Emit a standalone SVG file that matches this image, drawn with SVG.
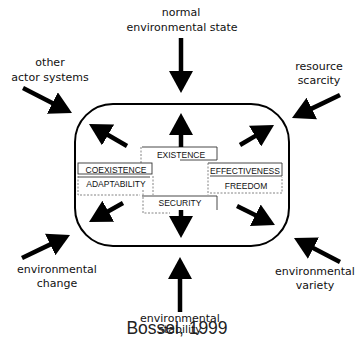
<svg xmlns="http://www.w3.org/2000/svg" width="357" height="338" viewBox="0 0 357 338">
<style>
.lbl{font-family:"DejaVu Sans","Liberation Sans",sans-serif;font-size:11px;fill:#111;text-anchor:middle}
.cap{font-family:"Liberation Sans",Arial,sans-serif;font-size:8.5px;fill:#111;text-anchor:middle}
.arr{stroke:#000;stroke-width:4.5;fill:none;marker-end:url(#head)}
.bx{fill:none;stroke:#333;stroke-width:0.9}
.dsh{fill:none;stroke:#666;stroke-width:0.8;stroke-dasharray:2 1.5}
</style>
<defs>
<marker id="head" viewBox="0 0 22 24" refX="2" refY="12" markerWidth="22" markerHeight="24" markerUnits="userSpaceOnUse" orient="auto">
<path d="M0,0 L22,12 L0,24 z" fill="#000"/>
</marker>
</defs>
<rect width="357" height="338" fill="#fff"/>
<g id="system">
<rect x="75" y="104" width="214" height="142" rx="38" ry="38" fill="none" stroke="#000" stroke-width="2"/>
</g>
<g id="existence">
<path class="bx" d="M142,147 H217 V160 H180"/>
<path class="dsh" d="M141,147 V163"/>
<text class="cap" x="181" y="158">EXISTENCE</text>
</g>
<g id="coexistence">
<rect class="bx" x="78" y="163" width="74" height="11"/>
<text class="cap" x="116" y="172.5">COEXISTENCE</text>
</g>
<g id="adaptability">
<path class="bx" d="M78,177 H150"/>
<path class="dsh" d="M78,176 V195 H140"/>
<path class="dsh" d="M153,176 V195"/>
<text class="cap" x="116" y="187">ADAPTABILITY</text>
</g>
<g id="effectiveness">
<path class="bx" d="M208,163 H282 V176 H210"/>
<path class="dsh" d="M208,163 V195"/>
<text class="cap" x="245" y="174">EFFECTIVENESS</text>
</g>
<g id="freedom">
<path class="dsh" d="M210,193 H282 V177"/>
<text class="cap" x="246" y="189">FREEDOM</text>
</g>
<g id="security">
<path class="bx" d="M142,196 H217 V210"/>
<path class="dsh" d="M143,190 V213 H170"/>
<text class="cap" x="180" y="206">SECURITY</text>
</g>
<g id="normal-env">
<text class="lbl" x="181" y="16">normal</text>
<text class="lbl" x="182" y="31">environmental state</text>
</g>
<g id="other-actors">
<text class="lbl" x="50" y="66">other</text>
<text class="lbl" x="50" y="81">actor systems</text>
</g>
<g id="resource">
<text class="lbl" x="319" y="70">resource</text>
<text class="lbl" x="319" y="84">scarcity</text>
</g>
<g id="env-change">
<text class="lbl" x="57" y="273">environmental</text>
<text class="lbl" x="57" y="287">change</text>
</g>
<g id="env-variety">
<text class="lbl" x="315" y="275">environmental</text>
<text class="lbl" x="315" y="289">variety</text>
</g>
<g id="env-stability">
<text class="lbl" x="180" y="322">environmental</text>
<text class="lbl" x="180" y="333">stability</text>
</g>
<g id="connectors">
<line class="arr" x1="181" y1="38" x2="181" y2="73"/>
<line class="arr" x1="180" y1="312" x2="180" y2="277"/>
<line class="arr" x1="23" y1="88" x2="54.2" y2="103.9"/>
<line class="arr" x1="340" y1="95" x2="310" y2="109.4"/>
<line class="arr" x1="22" y1="258" x2="52" y2="243.6"/>
<line class="arr" x1="340" y1="262" x2="311.7" y2="247.2"/>
<line class="arr" x1="181" y1="147" x2="181" y2="133"/>
<line class="arr" x1="181" y1="210" x2="181" y2="218"/>
<line class="arr" x1="127" y1="146" x2="106.3" y2="134"/>
<line class="arr" x1="240" y1="145" x2="256.8" y2="135.1"/>
<line class="arr" x1="123" y1="203" x2="106.5" y2="212.2"/>
<line class="arr" x1="237" y1="206" x2="257.1" y2="216.1"/>
</g>
<g id="credit">
<text x="177" y="334" font-family="'Liberation Sans',Arial,sans-serif" font-size="17.5" fill="#222" text-anchor="middle">Bossel, 1999</text>
</g>
</svg>
